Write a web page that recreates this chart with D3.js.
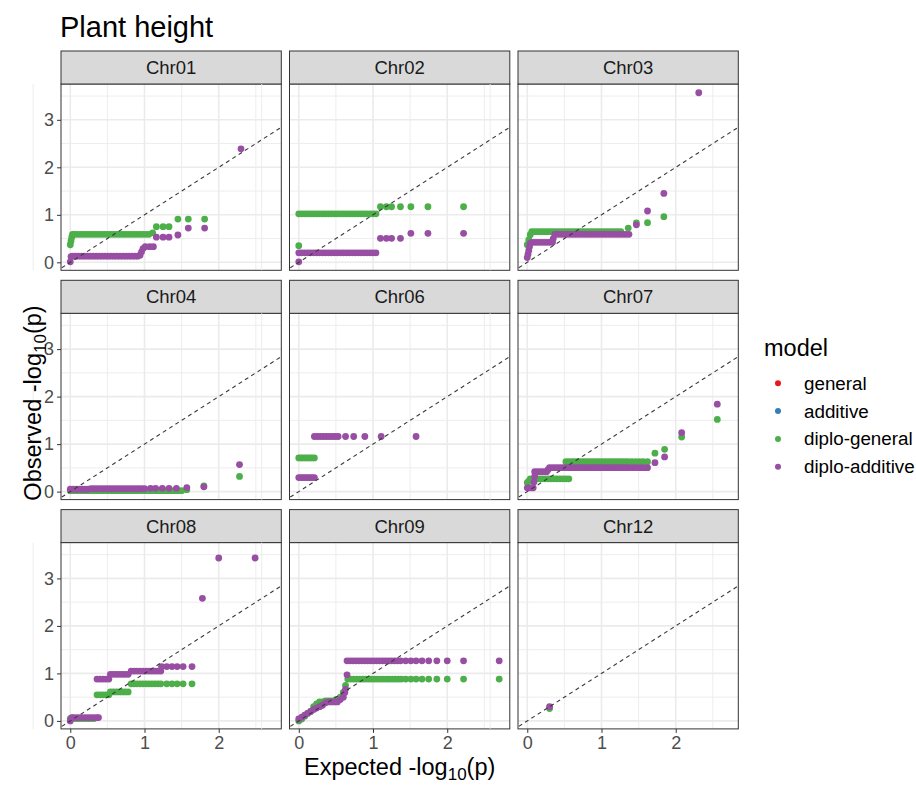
<!DOCTYPE html>
<html>
<head>
<meta charset="utf-8">
<script src="https://cdn.jsdelivr.net/npm/d3@7"></script>
<style>
  body { margin: 0; background: #fff; }
  svg { display: block; font-family: "Liberation Sans", Arial, sans-serif; }
</style>
</head>
<body>
<div id="chart"></div>
<script>
// categories
const chromosomes = ['Chr01', 'Chr02', 'Chr03', 'Chr04', 'Chr06', 'Chr07', 'Chr08', 'Chr09', 'Chr12'];
const models = ['general', 'additive', 'diplo-general', 'diplo-additive'];
const modelColors = ['#E41A1C', '#377EB8', '#4DAF4A', '#984EA3'];
const xTicks = [0, 1, 2];
const yTicks = [0, 1, 2, 3];

// general / additive have no visible points in any panel
const generalPoints = [];
const additivePoints = [];

// [expected, observed]
const chr01DiploGeneral = [
  [0,0.37],[0.01,0.45],[0.02,0.53],[0.03,0.59],[0.06,0.59],[0.1,0.59],[0.14,0.59],[0.18,0.59],[0.22,0.59],
  [0.26,0.59],[0.3,0.59],[0.34,0.59],[0.38,0.59],[0.42,0.59],[0.46,0.59],[0.5,0.59],[0.54,0.59],[0.58,0.59],
  [0.62,0.59],[0.66,0.59],[0.7,0.59],[0.74,0.59],[0.78,0.59],[0.82,0.59],[0.86,0.59],[0.9,0.59],[0.94,0.59],
  [0.98,0.59],[1.02,0.59],[1.06,0.59],[1.11,0.62],[1.16,0.75],[1.25,0.75],[1.33,0.75],[1.45,0.91],[1.59,0.91],[1.81,0.91]
];
const chr01DiploAdditive = [
  [0,0.01],[0.01,0.12],[0.03,0.13],[0.07,0.13],[0.11,0.13],[0.15,0.13],[0.19,0.13],[0.23,0.13],[0.27,0.13],
  [0.31,0.13],[0.35,0.13],[0.39,0.13],[0.43,0.13],[0.47,0.13],[0.51,0.13],[0.55,0.13],[0.59,0.13],[0.63,0.13],
  [0.67,0.13],[0.71,0.13],[0.75,0.13],[0.79,0.13],[0.83,0.13],[0.87,0.13],[0.91,0.13],[0.94,0.15],[0.96,0.22],
  [0.98,0.29],[1.01,0.33],[1.07,0.33],[1.12,0.33],[1.16,0.53],[1.25,0.53],[1.33,0.53],[1.45,0.575],[1.59,0.72],
  [1.81,0.72],[2.3,2.39]
];
const chr02DiploGeneral = [
  [0,0.35],[0,1.02],[0.04,1.02],[0.08,1.02],[0.12,1.02],[0.16,1.02],[0.2,1.02],[0.24,1.02],[0.28,1.02],[0.32,1.02],
  [0.36,1.02],[0.4,1.02],[0.44,1.02],[0.48,1.02],[0.52,1.02],[0.56,1.02],[0.6,1.02],[0.64,1.02],[0.68,1.02],
  [0.72,1.02],[0.76,1.02],[0.8,1.02],[0.84,1.02],[0.88,1.02],[0.92,1.02],[0.96,1.02],[1.0,1.02],[1.04,1.02],
  [1.1,1.17],[1.18,1.17],[1.25,1.17],[1.37,1.17],[1.51,1.17],[1.74,1.17],[2.22,1.17]
];
const chr02DiploAdditive = [
  [0,0.01],[0,0.2],[0.04,0.2],[0.08,0.2],[0.12,0.2],[0.16,0.2],[0.2,0.2],[0.24,0.2],[0.28,0.2],[0.32,0.2],
  [0.36,0.2],[0.4,0.2],[0.44,0.2],[0.48,0.2],[0.52,0.2],[0.56,0.2],[0.6,0.2],[0.64,0.2],[0.68,0.2],
  [0.72,0.2],[0.76,0.2],[0.8,0.2],[0.84,0.2],[0.88,0.2],[0.92,0.2],[0.96,0.2],[1.0,0.2],[1.04,0.2],
  [1.1,0.505],[1.18,0.505],[1.25,0.505],[1.37,0.505],[1.51,0.61],[1.74,0.61],[2.22,0.61]
];
const chr03DiploGeneral = [
  [0,0.37],[0.02,0.47],[0.04,0.58],[0.06,0.645],[0.1,0.645],[0.14,0.645],[0.18,0.645],[0.22,0.645],[0.26,0.645],
  [0.3,0.645],[0.34,0.645],[0.38,0.645],[0.42,0.645],[0.46,0.645],[0.5,0.645],[0.54,0.645],[0.58,0.645],
  [0.62,0.645],[0.66,0.645],[0.7,0.645],[0.74,0.645],[0.78,0.645],[0.82,0.645],[0.86,0.645],[0.9,0.645],
  [0.94,0.645],[0.98,0.645],[1.02,0.645],[1.06,0.645],[1.1,0.645],[1.14,0.645],[1.18,0.645],[1.22,0.645],
  [1.26,0.645],[1.36,0.72],[1.47,0.83],[1.62,0.835],[1.84,0.96]
];
const chr03DiploAdditive = [
  [0,0.1],[0.01,0.17],[0.02,0.25],[0.03,0.33],[0.04,0.4],[0.06,0.42],[0.1,0.42],[0.14,0.42],[0.18,0.42],
  [0.22,0.42],[0.26,0.42],[0.3,0.42],[0.34,0.42],[0.35,0.5],[0.37,0.59],[0.41,0.59],[0.45,0.59],[0.49,0.59],
  [0.53,0.59],[0.57,0.59],[0.61,0.59],[0.65,0.59],[0.69,0.59],[0.73,0.59],[0.77,0.59],[0.81,0.59],[0.85,0.59],
  [0.89,0.59],[0.93,0.59],[0.97,0.59],[1.01,0.59],[1.05,0.59],[1.09,0.59],[1.13,0.59],[1.17,0.59],[1.21,0.59],
  [1.25,0.59],[1.29,0.59],[1.33,0.59],[1.37,0.59],[1.47,0.79],[1.62,1.08],[1.84,1.45],[2.31,3.57]
];
const chr04DiploGeneral = [
  [0,0.02],[0.05,0.02],[0.1,0.02],[0.15,0.02],[0.2,0.02],[0.25,0.02],[0.3,0.02],[0.35,0.02],[0.4,0.02],
  [0.45,0.02],[0.5,0.02],[0.55,0.02],[0.6,0.02],[0.65,0.02],[0.7,0.02],[0.75,0.02],[0.8,0.02],[0.85,0.02],
  [0.9,0.02],[0.95,0.02],[1.0,0.02],[1.05,0.02],[1.1,0.02],[1.15,0.02],[1.2,0.02],[1.25,0.02],[1.3,0.02],
  [1.35,0.02],[1.4,0.02],[1.45,0.02],[1.5,0.02],[1.57,0.04],[1.8,0.12],[2.28,0.32]
];
const chr04DiploAdditive = [
  [0,0.05],[0.04,0.05],[0.08,0.05],[0.12,0.05],[0.16,0.05],[0.2,0.05],[0.24,0.05],[0.28,0.06],[0.32,0.06],
  [0.36,0.06],[0.4,0.06],[0.44,0.06],[0.48,0.06],[0.52,0.06],[0.56,0.06],[0.6,0.06],[0.64,0.06],[0.68,0.06],
  [0.72,0.06],[0.76,0.06],[0.8,0.06],[0.84,0.06],[0.88,0.06],[0.92,0.06],[0.96,0.06],[1.0,0.06],[1.08,0.07],
  [1.15,0.07],[1.24,0.07],[1.33,0.07],[1.43,0.07],[1.57,0.085],[1.8,0.1],[2.28,0.57]
];
const chr06DiploGeneral = [
  [0,0.71],[0.03,0.71],[0.06,0.71],[0.09,0.71],[0.12,0.71],[0.15,0.71],[0.18,0.71],[0.21,0.71]
];
const chr06DiploAdditive = [
  [0,0.295],[0.03,0.295],[0.06,0.295],[0.09,0.295],[0.12,0.295],[0.15,0.295],[0.18,0.295],[0.21,0.295],
  [0.21,1.16],[0.25,1.16],[0.29,1.16],[0.33,1.16],[0.37,1.16],[0.41,1.16],[0.45,1.16],[0.49,1.16],[0.53,1.16],
  [0.63,1.16],[0.74,1.16],[0.89,1.16],[1.11,1.16],[1.58,1.16]
];
const chr07DiploGeneral = [
  [0,0.19],[0.02,0.22],[0.04,0.27],[0.08,0.27],[0.12,0.27],[0.16,0.27],[0.2,0.27],[0.24,0.27],[0.28,0.27],
  [0.32,0.27],[0.36,0.27],[0.4,0.27],[0.44,0.27],[0.48,0.27],[0.52,0.27],[0.56,0.27],[0.52,0.63],[0.56,0.63],
  [0.6,0.63],[0.64,0.63],[0.68,0.63],[0.72,0.63],[0.76,0.63],[0.8,0.63],[0.84,0.63],[0.88,0.63],[0.92,0.63],
  [0.96,0.63],[1.0,0.63],[1.04,0.63],[1.08,0.63],[1.12,0.63],[1.16,0.63],[1.2,0.63],[1.24,0.63],[1.28,0.63],
  [1.32,0.63],[1.36,0.63],[1.41,0.63],[1.46,0.63],[1.51,0.63],[1.56,0.63],[1.62,0.63],[1.72,0.81],[1.85,0.89],
  [2.08,1.15],[2.56,1.52]
];
const chr07DiploAdditive = [
  [0,0.08],[0.03,0.08],[0.06,0.08],[0.08,0.08],[0.09,0.2],[0.1,0.32],[0.1,0.42],[0.14,0.42],[0.18,0.42],
  [0.22,0.42],[0.26,0.42],[0.28,0.46],[0.3,0.505],[0.34,0.505],[0.38,0.505],[0.42,0.505],[0.46,0.505],
  [0.5,0.505],[0.54,0.505],[0.58,0.505],[0.62,0.505],[0.66,0.505],[0.7,0.505],[0.74,0.505],[0.78,0.505],
  [0.82,0.505],[0.86,0.505],[0.9,0.505],[0.94,0.505],[0.98,0.505],[1.02,0.505],[1.06,0.505],[1.1,0.505],
  [1.14,0.505],[1.18,0.505],[1.22,0.505],[1.26,0.505],[1.3,0.505],[1.34,0.505],[1.38,0.505],[1.43,0.505],
  [1.48,0.505],[1.53,0.505],[1.58,0.505],[1.62,0.505],[1.72,0.61],[1.85,0.73],[2.08,1.24],[2.56,1.84]
];
const chr08DiploGeneral = [
  [0,0.05],[0.04,0.05],[0.08,0.05],[0.12,0.05],[0.16,0.05],[0.2,0.05],[0.24,0.05],[0.28,0.05],[0.32,0.05],
  [0.36,0.55],[0.4,0.55],[0.44,0.55],[0.48,0.55],[0.52,0.55],[0.54,0.61],[0.58,0.61],[0.62,0.61],[0.66,0.61],
  [0.7,0.61],[0.74,0.61],[0.78,0.61],[0.82,0.78],[0.86,0.78],[0.9,0.78],[0.94,0.78],[0.98,0.78],[1.02,0.78],
  [1.06,0.78],[1.1,0.78],[1.14,0.78],[1.18,0.78],[1.22,0.78],[1.3,0.78],[1.37,0.78],[1.44,0.78],[1.52,0.78],
  [1.64,0.78]
];
const chr08DiploAdditive = [
  [0,0],[0.02,0.07],[0.04,0.07],[0.08,0.07],[0.12,0.07],[0.16,0.07],[0.2,0.07],[0.24,0.07],[0.28,0.07],
  [0.32,0.07],[0.36,0.07],[0.38,0.07],[0.36,0.88],[0.4,0.88],[0.44,0.88],[0.48,0.88],[0.52,0.88],[0.54,0.98],
  [0.58,0.98],[0.62,0.98],[0.66,0.98],[0.7,0.98],[0.74,0.98],[0.78,0.98],[0.82,1.05],[0.86,1.05],[0.9,1.05],
  [0.94,1.05],[0.98,1.05],[1.02,1.05],[1.06,1.05],[1.1,1.05],[1.14,1.05],[1.18,1.05],[1.22,1.05],[1.23,1.145],
  [1.3,1.145],[1.37,1.145],[1.44,1.145],[1.52,1.145],[1.64,1.145],[1.78,2.58],[2.0,3.43],[2.49,3.43]
];
const chr09DiploGeneral = [
  [0,0],[0.04,0.04],[0.08,0.1],[0.12,0.16],[0.16,0.2],[0.2,0.3],[0.24,0.36],[0.28,0.4],[0.32,0.4],[0.36,0.42],
  [0.4,0.42],[0.44,0.42],[0.5,0.45],[0.56,0.5],[0.6,0.6],[0.63,0.75],[0.66,0.88],[0.7,0.88],[0.74,0.88],
  [0.78,0.88],[0.82,0.88],[0.86,0.88],[0.9,0.88],[0.94,0.88],[0.98,0.88],[1.02,0.88],[1.06,0.88],[1.1,0.88],
  [1.14,0.88],[1.18,0.88],[1.22,0.88],[1.26,0.88],[1.3,0.88],[1.34,0.88],[1.38,0.88],[1.44,0.88],[1.51,0.88],
  [1.58,0.88],[1.66,0.88],[1.75,0.88],[1.86,0.88],[2.0,0.88],[2.22,0.88],[2.7,0.88]
];
const chr09DiploAdditive = [
  [0,0.04],[0.04,0.08],[0.08,0.12],[0.12,0.16],[0.16,0.2],[0.2,0.24],[0.24,0.27],[0.28,0.3],[0.32,0.33],
  [0.36,0.38],[0.4,0.4],[0.44,0.4],[0.48,0.4],[0.52,0.4],[0.56,0.45],[0.6,0.5],[0.62,0.6],[0.63,0.67],
  [0.65,0.97],[0.65,1.265],[0.69,1.265],[0.73,1.265],[0.77,1.265],[0.81,1.265],[0.85,1.265],[0.89,1.265],
  [0.93,1.265],[0.97,1.265],[1.01,1.265],[1.05,1.265],[1.09,1.265],[1.13,1.265],[1.17,1.265],[1.21,1.265],
  [1.25,1.265],[1.29,1.265],[1.33,1.265],[1.37,1.265],[1.44,1.265],[1.51,1.265],[1.58,1.265],[1.66,1.265],
  [1.75,1.265],[1.86,1.265],[2.0,1.265],[2.22,1.265],[2.7,1.265]
];
const chr12DiploGeneral = [[0.3,0.26]];
const chr12DiploAdditive = [[0.3,0.3]];

// lookup table: chromosome -> list of point arrays, in model order
const seriesByChr = {
  Chr01: [generalPoints, additivePoints, chr01DiploGeneral, chr01DiploAdditive],
  Chr02: [generalPoints, additivePoints, chr02DiploGeneral, chr02DiploAdditive],
  Chr03: [generalPoints, additivePoints, chr03DiploGeneral, chr03DiploAdditive],
  Chr04: [generalPoints, additivePoints, chr04DiploGeneral, chr04DiploAdditive],
  Chr06: [generalPoints, additivePoints, chr06DiploGeneral, chr06DiploAdditive],
  Chr07: [generalPoints, additivePoints, chr07DiploGeneral, chr07DiploAdditive],
  Chr08: [generalPoints, additivePoints, chr08DiploGeneral, chr08DiploAdditive],
  Chr09: [generalPoints, additivePoints, chr09DiploGeneral, chr09DiploAdditive],
  Chr12: [generalPoints, additivePoints, chr12DiploGeneral, chr12DiploAdditive]
};

const W = 916, H = 785;
const svg = d3.select('#chart').append('svg')
  .attr('width', W).attr('height', H);

// facet layout
const colLefts = [61, 289.5, 518];
const stripTops = [51, 280.3, 509.6];
const pw = 220.3, ph = 186.3, stripH = 33;

const x = d3.scaleLinear().domain([-0.125, 2.843]).range([0, pw]);
const y = d3.scaleLinear().domain([-0.168, 3.754]).range([ph, 0]);

const gridMinorX = [-0.5, 0.5, 1.5, 2.5];
const gridMinorY = [0.5, 1.5, 2.5, 3.5];

function styleAxis(ax) {
  ax.select('.domain').remove();
  ax.selectAll('line').attr('stroke', '#333333');
  ax.selectAll('text').attr('fill', '#4D4D4D').style('font-size', '18px')
    .style('font-family', '"Liberation Sans", Arial, sans-serif');
}

chromosomes.forEach((chr, i) => {
  const col = i % 3, row = Math.floor(i / 3);
  const g = svg.append('g')
    .attr('transform', `translate(${colLefts[col]}, ${stripTops[row] + stripH})`);

  // strip
  svg.append('rect')
    .attr('x', colLefts[col]).attr('y', stripTops[row])
    .attr('width', pw).attr('height', stripH)
    .attr('fill', '#D9D9D9').attr('stroke', '#333333').attr('stroke-width', 1);
  svg.append('text')
    .attr('x', colLefts[col] + pw / 2).attr('y', stripTops[row] + stripH / 2 + 6.5)
    .attr('text-anchor', 'middle')
    .style('font-size', '18.5px').attr('fill', '#1A1A1A')
    .text(chr);

  g.append('rect').attr('width', pw).attr('height', ph).attr('fill', '#fff');

  const clipId = 'clip' + i;
  g.append('clipPath').attr('id', clipId)
    .append('rect').attr('width', pw).attr('height', ph);

  // grid
  const grid = g.append('g');
  grid.selectAll('.mx').data(gridMinorX).join('line')
    .attr('x1', d => x(d)).attr('x2', d => x(d)).attr('y1', 0).attr('y2', ph)
    .attr('stroke', '#EBEBEB').attr('stroke-width', 0.9);
  grid.selectAll('.my').data(gridMinorY).join('line')
    .attr('y1', d => y(d)).attr('y2', d => y(d)).attr('x1', 0).attr('x2', pw)
    .attr('stroke', '#EBEBEB').attr('stroke-width', 0.9);
  grid.selectAll('.Mx').data(xTicks).join('line')
    .attr('x1', d => x(d)).attr('x2', d => x(d)).attr('y1', 0).attr('y2', ph)
    .attr('stroke', '#EBEBEB').attr('stroke-width', 1.6);
  grid.selectAll('.My').data(yTicks).join('line')
    .attr('y1', d => y(d)).attr('y2', d => y(d)).attr('x1', 0).attr('x2', pw)
    .attr('stroke', '#EBEBEB').attr('stroke-width', 1.6);

  const plot = g.append('g').attr('clip-path', `url(#${clipId})`);

  // points, model order so diplo-additive ends on top
  seriesByChr[chr].forEach((pts, m) => {
    plot.append('g').selectAll('circle').data(pts).join('circle')
      .attr('cx', d => x(d[0])).attr('cy', d => y(d[1]))
      .attr('r', 3.4).attr('fill', modelColors[m]);
  });

  // y = x reference line
  plot.append('line')
    .attr('x1', x(-0.2)).attr('y1', y(-0.2))
    .attr('x2', x(3)).attr('y2', y(3))
    .attr('stroke', '#3a3a3a').attr('stroke-width', 1.1)
    .attr('stroke-dasharray', '4,3.5');

  g.append('rect').attr('width', pw).attr('height', ph)
    .attr('fill', 'none').attr('stroke', '#333333').attr('stroke-width', 1);

  // axes
  if (col === 0) {
    styleAxis(g.append('g')
      .call(d3.axisLeft(y).tickValues(yTicks).tickFormat(d3.format('d')).tickSize(4).tickPadding(3)));
  }
  if (row === 2) {
    styleAxis(g.append('g').attr('transform', `translate(0, ${ph})`)
      .call(d3.axisBottom(x).tickValues(xTicks).tickFormat(d3.format('d')).tickSize(4).tickPadding(3)));
  }
});

// title
svg.append('text')
  .attr('x', 60).attr('y', 37)
  .style('font-size', '29px').attr('fill', '#000')
  .text('Plant height');

// axis titles
const xl = svg.append('text')
  .attr('x', (colLefts[0] + colLefts[2] + pw) / 2).attr('y', 775)
  .attr('text-anchor', 'middle').style('font-size', '23.5px').attr('fill', '#000');
xl.append('tspan').text('Expected -log');
xl.append('tspan').attr('dy', 4.5).style('font-size', '17px').text('10');
xl.append('tspan').attr('dy', -4.5).text('(p)');

const yl = svg.append('text')
  .attr('transform', 'translate(41, 403) rotate(-90)')
  .attr('text-anchor', 'middle').style('font-size', '23.5px').attr('fill', '#000');
yl.append('tspan').text('Observed -log');
yl.append('tspan').attr('dy', 4.5).style('font-size', '17px').text('10');
yl.append('tspan').attr('dy', -4.5).text('(p)');

// legend
const legend = svg.append('g');
legend.append('text')
  .attr('x', 764).attr('y', 356)
  .style('font-size', '23.5px').attr('fill', '#000')
  .text('model');
models.forEach((m, i) => {
  const cy = 383.3 + i * 27.8;
  legend.append('circle').attr('cx', 778).attr('cy', cy).attr('r', 3).attr('fill', modelColors[i]);
  legend.append('text').attr('x', 804).attr('y', cy + 6.5)
    .style('font-size', '18.8px').attr('fill', '#000').text(m);
});
</script>
</body>
</html>
